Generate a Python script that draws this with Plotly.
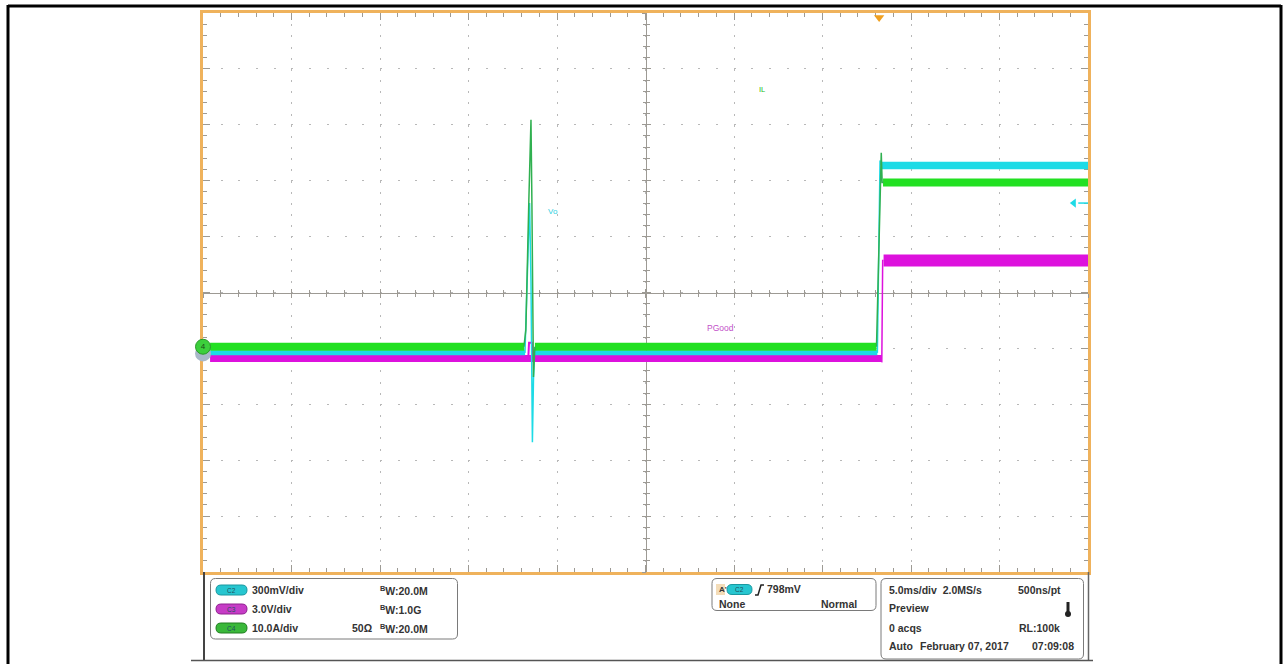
import plotly.graph_objects as go

# ---------------- data ----------------
# time in ms (5.0 ms/div, 10 div across), amplitude in screen divisions (10 div tall)
IL_T1 = [-24.6, -6.85]
IL_V1 = [-0.97, -0.97]
IL_T2 = [-6.25, 13.05]
IL_V2 = [-0.97, -0.97]
IL_T3 = [13.42, 25.0]
IL_V3 = [1.97, 1.97]
IL_SPIKE_T = [-6.87, -6.76, -6.59, -6.47, -6.42, -6.36, -6.33, -6.25]
IL_SPIKE_V = [-0.97, -0.67, 1.66, 3.09, 1.66, -0.97, -1.51, -0.97]
IL_STEP_T = [13.05, 13.32, 13.37, 13.45]
IL_STEP_V = [-0.97, 2.50, 1.97, 1.97]

VO_T1 = [-24.6, -6.8]
VO_V1 = [-1.08, -1.08]
VO_T2 = [-6.28, 13.1]
VO_V2 = [-1.08, -1.08]
VO_T3 = [13.35, 25.0]
VO_V3 = [2.27, 2.27]
VO_SPIKE_T = [-6.81, -6.66, -6.55, -6.47, -6.39, -6.33, -6.28]
VO_SPIKE_V = [-1.08, 0.3, 1.6, 0.2, -2.68, -1.57, -1.08]
VO_STEP_T = [13.1, 13.25, 13.35]
VO_STEP_V = [-1.08, 2.36, 2.27]

PG_T1 = [-24.6, 13.35]
PG_V1 = [-1.18, -1.18]
PG_T3 = [13.45, 25.0]
PG_V3 = [0.573, 0.573]
PG_BLIP_T = [-6.62, -6.58, -6.42, -6.38]
PG_BLIP_V = [-1.155, -0.9, -0.9, -1.155]
PG_STEP_T = [13.35, 13.40, 13.45]
PG_STEP_V = [-1.25, 0.573, 0.573]

TRIG_T = 13.2          # trigger position (ms)
TRIG_LEVEL = 1.6       # trigger level on C2 (div)
GND_C4 = -0.97         # C4 ground reference (div)

LABELS = [("Vo", -5.25, 1.45, "#2fd0e0", 8),
          ("IL", 6.57, 3.64, "#22bb22", 7.5),
          ("PGood", 4.21, -0.64, "#c24fc8", 8.5)]

# ---------------- geometry helpers (pixel -> paper) ----------------
W, H = 1288, 664
def X(px): return px / W
def Y(py): return 1 - py / H

GREEN = "#22e022"
GREEN_D = "#30b050"
CYAN = "#1ddbe6"
MAG = "#dd11dd"
ORANGE = "#efb25c"
GRID = "#b8b8b8"
TICK = "#9d9a94"

fig = go.Figure()

def line(t, v, color, width):
    fig.add_trace(go.Scatter(x=t, y=v, mode="lines",
                             line=dict(color=color, width=width),
                             showlegend=False, hoverinfo="skip"))

# magenta (C3 PGood)
line(PG_T1, PG_V1, MAG, 7)
line(PG_T3, PG_V3, MAG, 12)
line(PG_BLIP_T, PG_BLIP_V, MAG, 2)
line(PG_STEP_T, PG_STEP_V, MAG, 1.5)
# cyan (C2 Vo)
line(VO_T1, VO_V1, CYAN, 5)
line(VO_T2, VO_V2, CYAN, 5)
line(VO_T3, VO_V3, CYAN, 7.5)
line(VO_SPIKE_T, VO_SPIKE_V, CYAN, 1.5)
line(VO_STEP_T, VO_STEP_V, CYAN, 1.5)
# green (C4 IL)
line(IL_T1, IL_V1, GREEN, 8)
line(IL_T2, IL_V2, GREEN, 8)
line(IL_T3, IL_V3, GREEN, 8)
line(IL_SPIKE_T, IL_SPIKE_V, GREEN_D, 1.5)
line(IL_STEP_T, IL_STEP_V, GREEN_D, 1.5)

# markers: ground reference (on the left edge), trigger position, trigger level
fig.add_trace(go.Scatter(x=[-25.0], y=[GND_C4 - 0.12], mode="markers",
                         marker=dict(size=16, color="#a8b8c8", line=dict(width=0)),
                         cliponaxis=False, showlegend=False, hoverinfo="skip"))
fig.add_trace(go.Scatter(x=[-25.0], y=[GND_C4], mode="markers+text", text=["4"],
                         textposition="middle center",
                         textfont=dict(size=8, color="#1a4d1a", family="Liberation Sans"),
                         marker=dict(size=15, color="#3ccf3c", line=dict(width=1, color="#2a9a2a")),
                         cliponaxis=False, showlegend=False, hoverinfo="skip"))
fig.add_trace(go.Scatter(x=[TRIG_T], y=[4.92], mode="markers",
                         marker=dict(symbol="triangle-down", size=9, color="#f0a020"),
                         cliponaxis=False, showlegend=False, hoverinfo="skip"))
fig.add_trace(go.Scatter(x=[24.45, 25.0], y=[TRIG_LEVEL, TRIG_LEVEL], mode="lines",
                         line=dict(color=CYAN, width=1.5),
                         cliponaxis=False, showlegend=False, hoverinfo="skip"))
fig.add_trace(go.Scatter(x=[24.2], y=[TRIG_LEVEL], mode="markers",
                         marker=dict(symbol="triangle-left", size=8, color=CYAN),
                         cliponaxis=False, showlegend=False, hoverinfo="skip"))

# dummy traces so the centre-cross axes are drawn
for xa, ya in [("x2", "y"), ("x3", "y"), ("x", "y2"), ("x", "y3")]:
    fig.add_trace(go.Scatter(x=[None], y=[None], xaxis=xa, yaxis=ya,
                             showlegend=False, hoverinfo="skip"))

for txt, t, v, c, s in LABELS:
    fig.add_annotation(x=t, y=v, text=txt, showarrow=False,
                       font=dict(size=s, color=c, family="Liberation Sans"))

XD = [X(203), X(1088)]
YD = [Y(572), Y(13)]
xbase = dict(range=[-25, 25], tick0=-25, dtick=5, showticklabels=False,
             zeroline=False, fixedrange=True)
ybase = dict(range=[-5, 5], tick0=-5, dtick=1, showticklabels=False,
             zeroline=False, fixedrange=True)

fig.update_layout(
    width=W, height=H, autosize=False,
    margin=dict(l=0, r=0, t=0, b=0, pad=0),
    paper_bgcolor="white", plot_bgcolor="white",
    hovermode=False,
    xaxis=dict(**xbase, domain=XD, showgrid=True, gridcolor=GRID, gridwidth=1,
               griddash="2px,9.17px", layer="below traces",
               showline=True, linecolor=ORANGE, linewidth=3, mirror="ticks",
               ticks="inside", ticklen=7, tickwidth=1, tickcolor=TICK,
               minor=dict(dtick=1, tick0=-25, ticks="inside", ticklen=4,
                          tickcolor=TICK, showgrid=False)),
    yaxis=dict(**ybase, domain=YD, showgrid=True, gridcolor=GRID, gridwidth=1,
               griddash="2px,15.69px", layer="below traces",
               showline=True, linecolor=ORANGE, linewidth=3, mirror="ticks",
               ticks="inside", ticklen=7, tickwidth=1, tickcolor=TICK,
               minor=dict(dtick=0.2, tick0=-5, ticks="inside", ticklen=4,
                          tickcolor=TICK, showgrid=False)),
    xaxis2=dict(**xbase, overlaying="x", anchor="free", position=Y(292.5),
                showgrid=False, showline=True, linecolor=TICK, linewidth=1,
                layer="below traces",
                ticks="outside", ticklen=4, tickcolor=TICK,
                minor=dict(dtick=1, tick0=-25, ticks="outside", ticklen=3, tickcolor=TICK)),
    xaxis3=dict(**xbase, overlaying="x", anchor="free", position=Y(292.5),
                showgrid=False, showline=False, layer="below traces",
                ticks="inside", ticklen=4, tickcolor=TICK,
                minor=dict(dtick=1, tick0=-25, ticks="inside", ticklen=3, tickcolor=TICK)),
    yaxis2=dict(**ybase, overlaying="y", anchor="free", position=X(645.5),
                showgrid=False, showline=True, linecolor=TICK, linewidth=1,
                layer="below traces",
                ticks="outside", ticklen=4, tickcolor=TICK,
                minor=dict(dtick=0.2, tick0=-5, ticks="outside", ticklen=3, tickcolor=TICK)),
    yaxis3=dict(**ybase, overlaying="y", anchor="free", position=X(645.5),
                showgrid=False, showline=False, layer="below traces",
                ticks="inside", ticklen=4, tickcolor=TICK,
                minor=dict(dtick=0.2, tick0=-5, ticks="inside", ticklen=3, tickcolor=TICK)),
)

# ---------------- frame & status panel (pixel-placed decoration) ----------------
def pline(x0, y0, x1, y1, color, width):
    fig.add_shape(type="line", xref="paper", yref="paper",
                  x0=X(x0), y0=Y(y0), x1=X(x1), y1=Y(y1),
                  line=dict(color=color, width=width), layer="above")

def rrect(x0, y0, x1, y1, r, fill, border, bw=1):
    p = (f"M {X(x0+r)},{Y(y0)} L {X(x1-r)},{Y(y0)} Q {X(x1)},{Y(y0)} {X(x1)},{Y(y0+r)} "
         f"L {X(x1)},{Y(y1-r)} Q {X(x1)},{Y(y1)} {X(x1-r)},{Y(y1)} "
         f"L {X(x0+r)},{Y(y1)} Q {X(x0)},{Y(y1)} {X(x0)},{Y(y1-r)} "
         f"L {X(x0)},{Y(y0+r)} Q {X(x0)},{Y(y0)} {X(x0+r)},{Y(y0)} Z")
    fig.add_shape(type="path", xref="paper", yref="paper", path=p,
                  fillcolor=fill, line=dict(color=border, width=bw), layer="above")

def text(px, py, s, anchor="left", size=10.5, color="#333333", bold=True):
    fig.add_annotation(xref="paper", yref="paper", x=X(px), y=Y(py),
                       xanchor=anchor, yanchor="middle", showarrow=False,
                       text=f"<b>{s}</b>" if bold else s,
                       font=dict(size=size, color=color, family="Liberation Sans"))

def pill(x0, x1, yc, color, border, label):
    rrect(x0, yc - 5, x1, yc + 5, 5, color, border, 1)
    text((x0 + x1) / 2, yc, label, anchor="center", size=6.5, color="#205060", bold=False)

# outer black frame
pline(8, 6, 1281, 6, "black", 3)
pline(8, 5, 8, 664, "black", 3)
pline(1281, 5, 1281, 664, "black", 3)
# scope screen frame below plot
pline(204, 572, 204, 660, "#444444", 2)
pline(1088.5, 572, 1088.5, 660, "#666666", 1.5)
pline(191, 660.5, 1093, 660.5, "#555555", 1.5)

# channel box
rrect(210.5, 578.5, 457.5, 639, 5, "white", "#7a7a7a", 1)
CH_ROWS = [(590, "#27c6d0", "#1a98a0", "C2", "300mV/div", "", "20.0M"),
           (609, "#c63cc6", "#902090", "C3", "3.0V/div", "", "1.0G"),
           (628, "#3ab83a", "#207f20", "C4", "10.0A/div", "50Ω", "20.0M")]
for yc, c, bc, lab, scale, imp, bw in CH_ROWS:
    pill(216, 247, yc, c, bc, lab)
    text(250, yc, scale)
    if imp:
        text(350, yc, imp)
    text(378, yc, f"<sup>B</sup>W:{bw}")

# trigger box
rrect(712, 578.5, 876, 610.5, 5, "white", "#7a7a7a", 1)
fig.add_shape(type="rect", xref="paper", yref="paper", x0=X(716), y0=Y(595), x1=X(725), y1=Y(584),
              fillcolor="#f3dcb8", line=dict(width=0), layer="above")
text(717, 589.5, "A'", size=8, color="#333333")
pill(727, 752, 589.5, "#27c6d0", "#1a98a0", "C2")
fig.add_shape(type="path", xref="paper", yref="paper",
              path=f"M {X(755)},{Y(595)} L {X(758)},{Y(595)} L {X(761)},{Y(585)} L {X(764)},{Y(585)}",
              line=dict(color="#222222", width=1.5), layer="above")
text(765, 589, "798mV")
text(717, 604, "None")
text(859, 604, "Normal", anchor="right")

# acquisition box
rrect(881, 578.5, 1083.5, 659, 5, "white", "#7a7a7a", 1)
text(887, 590, "5.0ms/div  2.0MS/s")
text(1063, 590, "500ns/pt", anchor="right")
text(887, 608, "Preview")
pline(1068, 602, 1068, 612, "#222222", 3)
fig.add_shape(type="circle", xref="paper", yref="paper", x0=X(1065), y0=Y(617), x1=X(1071), y1=Y(611),
              fillcolor="#222222", line=dict(width=0), layer="above")
text(887, 627.5, "0 acqs")
text(1062, 627.5, "RL:100k", anchor="right")
text(887, 646, "Auto")
text(918, 646, "February 07, 2017")
text(1076, 646, "07:09:08", anchor="right")

fig.write_html("out.html", config=dict(displayModeBar=False, staticPlot=True),
               post_script="document.body.style.margin='0';document.body.style.overflow='hidden';")
